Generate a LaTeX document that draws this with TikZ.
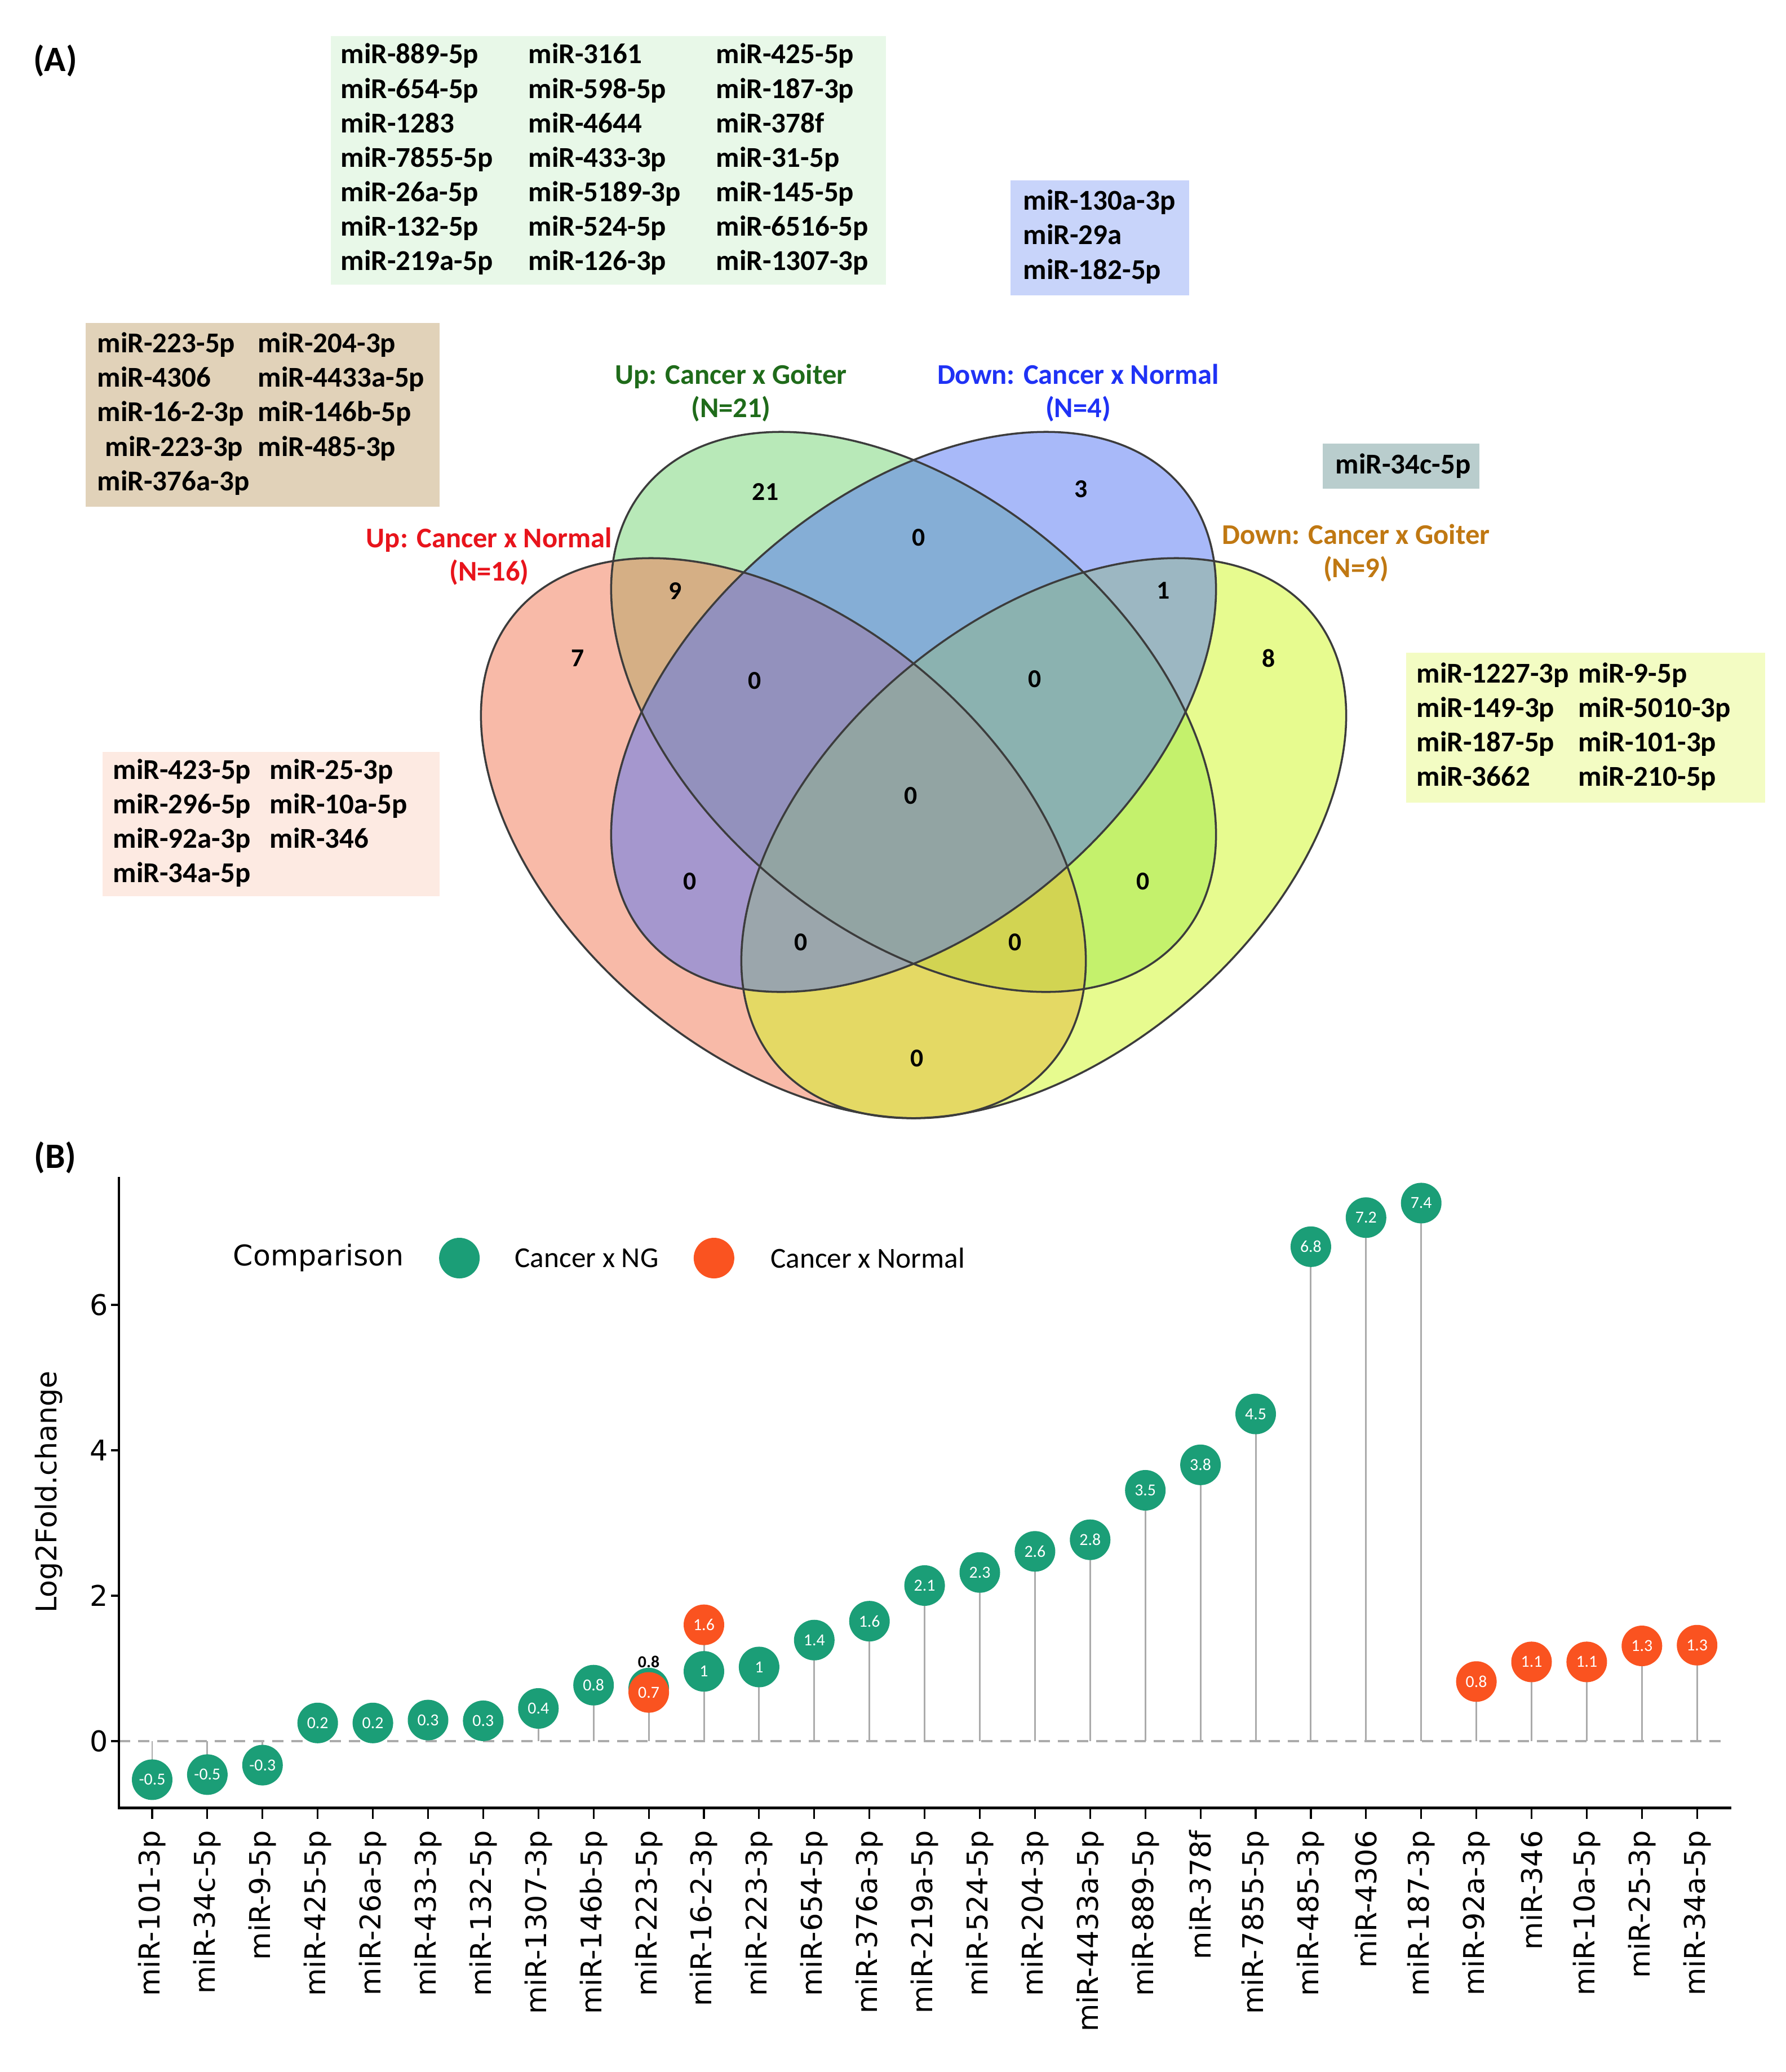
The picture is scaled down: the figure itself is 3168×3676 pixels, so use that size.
\documentclass[tikz,border=0pt]{standalone}
\usepackage{fontspec}
\setmainfont{Carlito}
\newfontfamily\plotfont{DejaVu Sans}
\usepackage{xcolor}
\usetikzlibrary{positioning}

\definecolor{vennred}{HTML}{F37753}
\definecolor{venngreen}{HTML}{73D573}
\definecolor{vennblue}{HTML}{5375F5}
\definecolor{vennyellow}{HTML}{D1F921}
\definecolor{vennline}{HTML}{3C3C3C}
\definecolor{labred}{HTML}{E8141C}
\definecolor{labgreen}{HTML}{1F6B1A}
\definecolor{labblue}{HTML}{1F32F5}
\definecolor{labbrown}{HTML}{C07812}
\definecolor{boxgreen}{HTML}{E8F8E8}
\definecolor{boxblue}{HTML}{C8D4FA}
\definecolor{boxtan}{HTML}{E1D2B9}
\definecolor{boxpink}{HTML}{FDEAE2}
\definecolor{boxgray}{HTML}{B9CDCD}
\definecolor{boxyellow}{HTML}{F3FCC3}
\definecolor{ngcol}{HTML}{1B9E77}
\definecolor{normcol}{HTML}{FA5320}
\definecolor{stemgray}{HTML}{ABABAB}

\newcommand{\mirfont}{\bfseries\fontsize{14.5}{17.4}\selectfont}
\newcommand{\vennlabfont}{\bfseries\fontsize{14.4}{16.8}\selectfont}
\newcommand{\cntfont}{\bfseries\fontsize{13}{15}\selectfont}
\newcommand{\axfont}{\plotfont\fontsize{14.4}{17}\selectfont}
\newcommand{\valfont}{\fontsize{8.5}{10}\selectfont}
\newcommand{\panelfont}{\bfseries\fontsize{18}{20}\selectfont}

% lollipops: position / value / label / colour
\newcommand{\lollidata}{1/-0.53/-0.5/ngcol, 2/-0.46/-0.5/ngcol, 3/-0.33/-0.3/ngcol,
  4/0.25/0.2/ngcol, 5/0.25/0.2/ngcol, 6/0.29/0.3/ngcol, 7/0.28/0.3/ngcol,
  8/0.45/0.4/ngcol, 9/0.77/0.8/ngcol, 10/0.73/{}/ngcol, 10/0.67/0.7/normcol,
  11/0.96/1/ngcol, 11/1.6/1.6/normcol, 12/1.02/1/ngcol, 13/1.39/1.4/ngcol,
  14/1.65/1.6/ngcol, 15/2.14/2.1/ngcol, 16/2.32/2.3/ngcol, 17/2.61/2.6/ngcol,
  18/2.77/2.8/ngcol, 19/3.45/3.5/ngcol, 20/3.8/3.8/ngcol, 21/4.5/4.5/ngcol,
  22/6.8/6.8/ngcol, 23/7.2/7.2/ngcol, 24/7.4/7.4/ngcol, 25/0.82/0.8/normcol,
  26/1.09/1.1/normcol, 27/1.09/1.1/normcol, 28/1.31/1.3/normcol, 29/1.32/1.3/normcol}

\begin{document}
\begin{tikzpicture}[
  x=0.1mm, y=-0.1mm,
  mirbox/.style={anchor=north west, inner ysep=0pt, align=left, font=\mirfont},
  setlab/.style={align=center, font=\vennlabfont, inner sep=0pt},
  vcount/.style={font=\cntfont, inner sep=0pt},
  vennedge/.style={draw=vennline, line width=1pt},
  dot/.style={circle, minimum size=7.2mm, inner sep=0pt, font=\valfont, text=white},
  stem/.style={draw=stemgray, line width=0.85pt},
  axisline/.style={draw=black, line width=1.4pt},
  xlab/.style={rotate=90, anchor=east, inner sep=0pt, font=\axfont},
  legtext/.style={inner sep=0pt, font=\fontsize{14.6}{17}\selectfont}
]
\fill[white] (0,0) rectangle (3168,3676);
\useasboundingbox (0,0) rectangle (3168,3676);

% Panel A
\node[font=\panelfont, inner sep=0pt] (panA) at (98,108) {(A)};

% Venn fills (green, red, yellow, blue) then outlines
\foreach \cx/\cy/\ang/\col in {1621/1263/-40/venngreen, 1390/1487/-40/vennred,
    1852/1487/40/vennyellow, 1621/1263/40/vennblue}
  \fill[\col, fill opacity=0.5, shift={(\cx,\cy)}, rotate=\ang] (0,0) ellipse [x radius=62.1mm, y radius=38.6mm];
\foreach \cx/\cy/\ang in {1621/1263/-40, 1390/1487/-40, 1852/1487/40, 1621/1263/40}
  \draw[vennedge, shift={(\cx,\cy)}, rotate=\ang] (0,0) ellipse [x radius=62.1mm, y radius=38.6mm];

% Set names
\node[setlab, text=labgreen] (upgoiter) at (1297,697) {Up: Cancer x Goiter\\(N=21)};
\node[setlab, text=labblue] (downnormal) at (1913,697) {Down: Cancer x Normal\\(N=4)};
\node[setlab, text=labred] (upnormal) at (868,987) {Up: Cancer x Normal\\(N=16)};
\node[setlab, text=labbrown] (downgoiter) at (2406,981) {Down: Cancer x Goiter\\(N=9)};

% Region counts
\foreach \px/\py/\n [count=\k] in {1358/872/21, 1918/868/3, 1630/954/0, 1198/1048/9,
    2064/1048/1, 1025/1168/7, 2251/1168/8, 1339/1208/0, 1836/1205/0, 1616/1412/0,
    1224/1564/0, 2028/1564/0, 1421/1672/0, 1801/1672/0, 1627/1878/0}
  \node[vcount] (vc\k) at (\px,\py) {\n};

% miRNA lists
\node[mirbox, fill=boxgreen, minimum width=98.5mm, minimum height=44.1mm,
  inner xsep=1.8mm, text width=94.9mm] (listupgoiter) at (586,63) {%
  \begin{tabular}{@{}p{33.3mm}@{}p{33.3mm}@{}l@{}}
  miR-889-5p & miR-3161 & miR-425-5p\\
  miR-654-5p & miR-598-5p & miR-187-3p\\
  miR-1283 & miR-4644 & miR-378f\\
  miR-7855-5p & miR-433-3p & miR-31-5p\\
  miR-26a-5p & miR-5189-3p & miR-145-5p\\
  miR-132-5p & miR-524-5p & miR-6516-5p\\
  miR-219a-5p & miR-126-3p & miR-1307-3p
  \end{tabular}};

\node[mirbox, fill=boxblue, minimum width=31.7mm, minimum height=20.4mm,
  inner xsep=2.3mm, text width=27.1mm] (listdownnormal) at (1792,319) {%
  \begin{tabular}{@{}l@{}}
  miR-130a-3p\\ miR-29a\\ miR-182-5p
  \end{tabular}};

\node[mirbox, fill=boxtan, minimum width=62.8mm, minimum height=32.6mm,
  inner xsep=2.1mm, text width=58.6mm] (listupboth) at (151,572) {%
  \begin{tabular}{@{}p{28.5mm}@{}l@{}}
  miR-223-5p & miR-204-3p\\
  miR-4306 & miR-4433a-5p\\
  miR-16-2-3p & miR-146b-5p\\
  \hspace{1.4mm}miR-223-3p & miR-485-3p\\
  miR-376a-3p &
  \end{tabular}};

\node[mirbox, fill=boxgray, minimum width=27.8mm, minimum height=8mm,
  inner xsep=2.3mm, text width=23.2mm] (listdownboth) at (2346,786) {\mbox{miR-34c-5p}};

\node[mirbox, fill=boxyellow, minimum width=63.7mm, minimum height=26.6mm,
  inner xsep=1.9mm, text width=59.9mm] (listdowngoiter) at (2494,1157) {%
  \begin{tabular}{@{}p{28.7mm}@{}l@{}}
  miR-1227-3p & miR-9-5p\\
  miR-149-3p & miR-5010-3p\\
  miR-187-5p & miR-101-3p\\
  miR-3662 & miR-210-5p
  \end{tabular}};

\node[mirbox, fill=boxpink, minimum width=59.8mm, minimum height=25.6mm,
  inner xsep=1.9mm, text width=56mm] (listupnormal) at (181,1333) {%
  \begin{tabular}{@{}p{27.8mm}@{}l@{}}
  miR-423-5p & miR-25-3p\\
  miR-296-5p & miR-10a-5p\\
  miR-92a-3p & miR-346\\
  miR-34a-5p &
  \end{tabular}};

% Panel B
\node[font=\panelfont, inner sep=0pt] (panB) at (98,2054) {(B)};

% zero line and stems
\draw[stemgray, line width=1.1pt, dash pattern=on 2mm off 1.4mm] (211,3089) -- (3058,3089);
\foreach \i/\v/\lab/\c in \lollidata
  \draw[stem] ({270+97.9*(\i-1)},3089) -- ({270+97.9*(\i-1)},{3089-129*\v});
\foreach \i/\v/\lab/\c [count=\k] in \lollidata
  \node[dot, fill=\c] (pt\k) at ({270+97.9*(\i-1)},{3089-129*\v}) {\lab};
\node[font=\valfont\bfseries, inner sep=0pt] (hidden08) at (1151,2948) {0.8};

% axes
\draw[axisline] (211,2088) -- (211,3207) -- (3072,3207);
\foreach \t in {0,2,4,6}{
  \draw[black, line width=0.9pt] (197,{3089-129*\t}) -- (211,{3089-129*\t});
  \node[font=\axfont, anchor=east, inner sep=0pt] (yt\t) at (192,{3089-129*\t}) {\t};
}
\node[font=\axfont, rotate=90, inner sep=0pt] (ylab) at (87,2647) {Log2Fold.change};

\foreach \name [count=\i] in {miR-101-3p, miR-34c-5p, miR-9-5p, miR-425-5p, miR-26a-5p,
    miR-433-3p, miR-132-5p, miR-1307-3p, miR-146b-5p, miR-223-5p, miR-16-2-3p,
    miR-223-3p, miR-654-5p, miR-376a-3p, miR-219a-5p, miR-524-5p, miR-204-3p,
    miR-4433a-5p, miR-889-5p, miR-378f, miR-7855-5p, miR-485-3p, miR-4306,
    miR-187-3p, miR-92a-3p, miR-346, miR-10a-5p, miR-25-3p, miR-34a-5p}{
  \draw[black, line width=0.9pt] ({270+97.9*(\i-1)},3207) -- ++(0,20);
  \node[xlab] (xl\i) at ({270+97.9*(\i-1)},3247) {\name};
}

% legend
\node[font=\axfont, anchor=west, inner sep=0pt] (legtitle) at (413,2232) {Comparison};
\node[dot, fill=ngcol, right=6.1mm of legtitle] (legng) {};
\node[legtext, right=6.1mm of legng] (legngtxt) {Cancer x NG};
\node[dot, fill=normcol, right=6.1mm of legngtxt] (legnorm) {};
\node[legtext, right=6.3mm of legnorm] (legnormtxt) {Cancer x Normal};

\end{tikzpicture}
\end{document}
